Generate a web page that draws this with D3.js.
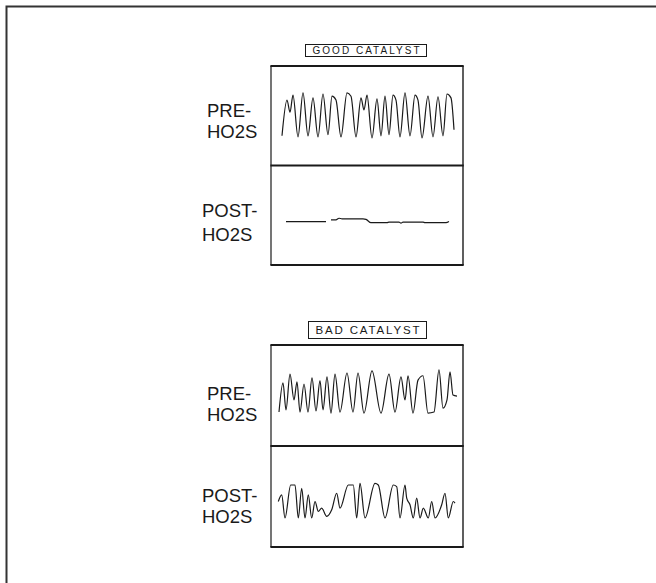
<!DOCTYPE html>
<html>
<head>
<meta charset="utf-8">
<script src="https://cdn.jsdelivr.net/npm/d3@7"></script>
<style>
  body { margin: 0; background: #fff; }
  text { font-family: "Liberation Sans", Arial, sans-serif; fill: #1a1a1a; }
</style>
</head>
<body>
<div id="diagram"></div>
<script>
// sensor traces, time in ms, voltage in V
let goodPreTime = [50, 100, 130, 160, 210, 260, 310, 360, 410, 460, 510, 550, 590, 640, 700, 740, 790, 840, 870, 900,
  950, 1000, 1040, 1080, 1120, 1160, 1190, 1230, 1280, 1330, 1380, 1410, 1450, 1510, 1560, 1610, 1660, 1700, 1740, 1770];
let goodPreVolts = [0.13, 0.78, 0.56, 0.87, 0.11, 0.91, 0.13, 0.82, 0.11, 0.89, 0.15, 0.85, 0.78, 0.11, 0.91, 0.85, 0.11, 0.82, 0.60, 0.87,
  0.09, 0.80, 0.13, 0.85, 0.15, 0.87, 0.78, 0.11, 0.91, 0.13, 0.87, 0.78, 0.09, 0.85, 0.11, 0.84, 0.13, 0.89, 0.82, 0.24];

let goodPostTime = [90, 490, 515, 540, 590, 620, 650, 860, 890, 940, 1100, 1120, 1220, 1240, 1260, 1460, 1480, 1690, 1720];
let goodPostVolts = [0.38, 0.38, null, 0.41, 0.41, 0.44, 0.43, 0.43, 0.42, 0.36, 0.36, 0.37, 0.37, 0.35, 0.37, 0.37, 0.36, 0.36, 0.38];

let badPreTime = [20, 60, 90, 130, 170, 200, 230, 270, 310, 350, 390, 430, 460, 500, 540, 580, 630, 700, 760, 810,
  870, 950, 1040, 1120, 1180, 1240, 1280, 1310, 1360, 1410, 1460, 1510, 1570, 1620, 1660, 1700, 1730, 1760, 1800];
let badPreVolts = [0.18, 0.71, 0.22, 0.87, 0.40, 0.73, 0.18, 0.69, 0.18, 0.80, 0.20, 0.75, 0.22, 0.82, 0.16, 0.87, 0.18, 0.89, 0.18, 0.89,
  0.16, 0.93, 0.16, 0.87, 0.18, 0.82, 0.40, 0.84, 0.16, 0.76, 0.84, 0.16, 0.18, 0.95, 0.25, 0.40, 0.91, 0.49, 0.47];

let badPostTime = [13, 47, 80, 137, 180, 213, 247, 280, 313, 347, 380, 413, 447, 497, 547, 597, 630, 713, 763, 797,
  830, 880, 980, 1013, 1080, 1163, 1197, 1230, 1280, 1297, 1330, 1363, 1397, 1430, 1463, 1513, 1547, 1580, 1647, 1680,
  1713, 1763, 1780];
let badPostVolts = [0.39, 0.51, 0.09, 0.69, 0.69, 0.09, 0.63, 0.09, 0.51, 0.09, 0.39, 0.21, 0.27, 0.12, 0.24, 0.54, 0.27, 0.69, 0.69, 0.09,
  0.72, 0.09, 0.72, 0.69, 0.09, 0.69, 0.66, 0.09, 0.69, 0.45, 0.33, 0.09, 0.45, 0.09, 0.27, 0.09, 0.39, 0.09, 0.33, 0.54,
  0.09, 0.39, 0.36];

let titles = ['GOOD CATALYST', 'BAD CATALYST'];

!(function () {
  // - - - - - - - - - -

  let
    svg,
    width = 656,
    height = 583,
    panelLeft = 271,
    panelRight = 463,
    ink = '#1a1a1a',
    xScale = d3.scaleLinear()
      .domain([-60, 1860])
      .range([panelLeft, panelRight]),
    zip = function (t, v) {
      return t.map(function (d, i) { return { t: d, v: v[i] }; });
    },
    sections = [
      { title: titles[0], box: [305, 44, 121, 12], fs: 10, top: 66, mid: 165.5, bottom: 265,
        pre: zip(goodPreTime, goodPreVolts), post: zip(goodPostTime, goodPostVolts),
        preLab: [117, 138], postLab: [217, 241] },
      { title: titles[1], box: [308, 321, 118, 17], fs: 11.5, top: 345, mid: 446, bottom: 547,
        pre: zip(badPreTime, badPreVolts), post: zip(badPostTime, badPostVolts),
        preLab: [400, 421], postLab: [502, 523] }
    ];

  svg = d3.select('#diagram')
    .append('svg')
    .attr('width', width)
    .attr('height', height)
    .attr('viewBox', '0 0 ' + width + ' ' + height);

  svg.append('rect')
    .attr('width', width)
    .attr('height', height)
    .style('fill', '#fff');

  // outer frame, runs off the right and bottom of the page
  svg.append('path')
    .attr('d', 'M6.5,' + height + 'V6.5H' + width)
    .style('fill', 'none')
    .style('stroke', '#333')
    .style('stroke-width', 2);

  sections.forEach(function (s) {
    let g = svg.append('g');

    // title box
    g.append('rect')
      .attr('x', s.box[0] + 0.5)
      .attr('y', s.box[1] + 0.5)
      .attr('width', s.box[2])
      .attr('height', s.box[3])
      .style('fill', '#fff')
      .style('stroke', ink)
      .style('stroke-width', 1);

    g.append('text')
      .attr('x', s.box[0] + s.box[2] / 2 + 0.5)
      .attr('y', s.box[1] + s.box[3] / 2 + s.fs * 0.36 + 0.5)
      .attr('text-anchor', 'middle')
      .attr('textLength', s.box[2] - 14)
      .attr('lengthAdjust', 'spacing')
      .style('font-size', s.fs + 'px')
      .text(s.title);

    // panel frame
    g.append('line').attr('x1', panelLeft).attr('x2', panelLeft).attr('y1', s.top).attr('y2', s.bottom)
      .style('stroke', ink).style('stroke-width', 1.2);
    g.append('line').attr('x1', panelRight).attr('x2', panelRight).attr('y1', s.top).attr('y2', s.bottom)
      .style('stroke', ink).style('stroke-width', 1.4);
    [s.top, s.mid, s.bottom].forEach(function (yy) {
      g.append('line')
        .attr('x1', panelLeft - 0.6).attr('x2', panelRight + 0.7)
        .attr('y1', yy).attr('y2', yy)
        .style('stroke', ink)
        .style('stroke-width', 2);
    });

    // traces
    [[s.pre, s.top], [s.post, s.mid]].forEach(function (p) {
      let yScale = d3.scaleLinear()
        .domain([-0.42, 1.4])
        .range([p[1] + 100, p[1]]);

      let line = d3.line()
        .defined(function (d) { return d.v != null; })
        .x(function (d) { return xScale(d.t); })
        .y(function (d) { return yScale(d.v); })
        .curve(d3.curveMonotoneX);

      g.append('path')
        .datum(p[0])
        .attr('d', line)
        .style('fill', 'none')
        .style('stroke', ink)
        .style('stroke-width', 1.2)
        .style('stroke-linejoin', 'round');
    });

    // side labels
    [['PRE-', 207, s.preLab[0]], ['HO2S', 207, s.preLab[1]],
     ['POST-', 202, s.postLab[0]], ['HO2S', 202, s.postLab[1]]].forEach(function (l) {
      g.append('text')
        .attr('x', l[1])
        .attr('y', l[2])
        .style('font-size', '18.5px')
        .text(l[0]);
    });
  });

  // - - - - - - - - - -
}());
</script>
</body>
</html>
